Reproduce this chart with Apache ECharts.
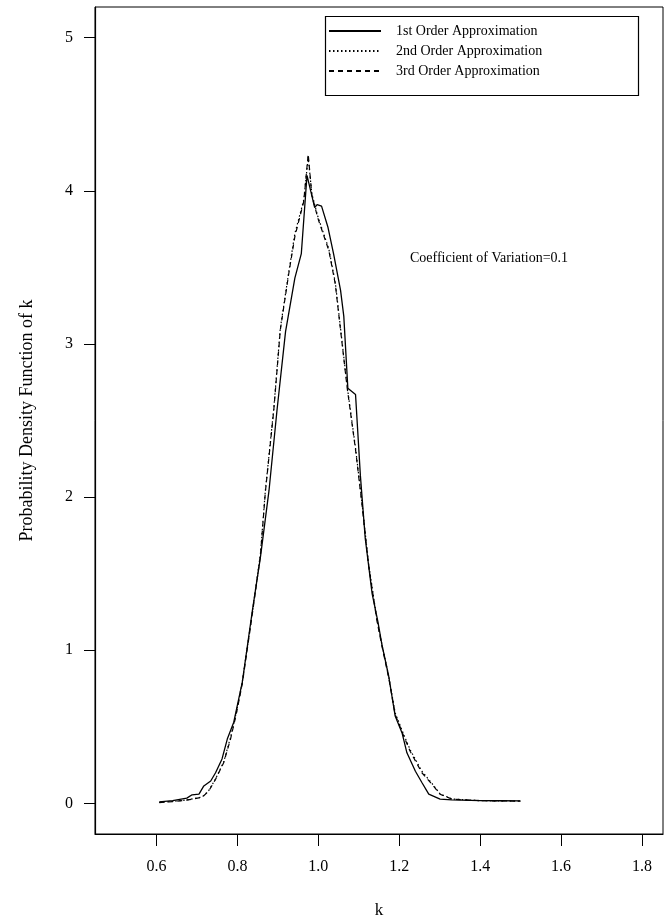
<!DOCTYPE html>
<html>
<head>
<meta charset="utf-8">
<script src="https://cdn.jsdelivr.net/npm/echarts@6/dist/echarts.min.js"></script>
<style>
  html, body { margin: 0; padding: 0; background: #fff; }
  #chart { width: 667px; height: 924px; }
</style>
</head>
<body>
<div id="chart"></div>
<script>
// Density of k under three orders of approximation
const kFirst = [0.607, 0.64, 0.675, 0.688, 0.705, 0.717, 0.734, 0.746, 0.762, 0.775, 0.791, 0.812, 0.836, 0.857, 0.878, 0.898, 0.919, 0.942, 0.958, 0.972, 0.991, 0.997, 1.008, 1.024, 1.038, 1.055, 1.063, 1.073, 1.092, 1.104, 1.116, 1.133, 1.147, 1.157, 1.174, 1.190, 1.207, 1.219, 1.240, 1.256, 1.273, 1.301, 1.330, 1.40, 1.45, 1.499];
const pdfFirst = [0.01, 0.018, 0.034, 0.056, 0.06, 0.114, 0.146, 0.20, 0.29, 0.42, 0.53, 0.79, 1.24, 1.61, 2.04, 2.57, 3.08, 3.43, 3.59, 4.10, 3.89, 3.91, 3.90, 3.76, 3.585, 3.35, 3.18, 2.71, 2.67, 2.14, 1.73, 1.37, 1.19, 1.04, 0.83, 0.57, 0.46, 0.33, 0.21, 0.136, 0.06, 0.028, 0.023, 0.018, 0.017, 0.016];

const kSecond = [0.607, 0.64, 0.672, 0.713, 0.729, 0.746, 0.766, 0.783, 0.797, 0.812, 0.836, 0.857, 0.869, 0.890, 0.906, 0.927, 0.942, 0.964, 0.975, 0.984, 0.999, 1.026, 1.042, 1.055, 1.071, 1.092, 1.108, 1.124, 1.145, 1.157, 1.174, 1.190, 1.211, 1.227, 1.256, 1.281, 1.301, 1.330, 1.40, 1.45, 1.50];
const pdfSecond = [0.006, 0.013, 0.021, 0.042, 0.083, 0.16, 0.27, 0.43, 0.59, 0.79, 1.23, 1.63, 2.04, 2.58, 3.10, 3.47, 3.72, 3.94, 4.22, 3.98, 3.83, 3.62, 3.40, 3.10, 2.73, 2.32, 1.96, 1.57, 1.20, 1.04, 0.83, 0.59, 0.45, 0.35, 0.21, 0.13, 0.062, 0.029, 0.018, 0.016, 0.015];

const kThird = [0.607, 0.64, 0.672, 0.713, 0.729, 0.746, 0.766, 0.783, 0.797, 0.812, 0.836, 0.857, 0.869, 0.890, 0.906, 0.927, 0.942, 0.964, 0.975, 0.984, 0.999, 1.026, 1.042, 1.055, 1.071, 1.092, 1.108, 1.124, 1.145, 1.157, 1.174, 1.190, 1.211, 1.227, 1.256, 1.281, 1.301, 1.330, 1.40, 1.45, 1.50];
const pdfThird = [0.005, 0.012, 0.02, 0.04, 0.08, 0.157, 0.265, 0.42, 0.58, 0.78, 1.22, 1.62, 2.03, 2.57, 3.09, 3.46, 3.70, 3.93, 4.24, 3.97, 3.82, 3.61, 3.39, 3.09, 2.72, 2.31, 1.95, 1.56, 1.19, 1.03, 0.82, 0.58, 0.44, 0.34, 0.20, 0.125, 0.06, 0.028, 0.018, 0.016, 0.015];

const seriesNames = ['1st Order Approximation', '2nd Order Approximation', '3rd Order Approximation'];
const xTicks = [0.6, 0.8, 1.0, 1.2, 1.4, 1.6, 1.8];
const yTicks = [0, 1, 2, 3, 4, 5];
const note = 'Coefficient of Variation=0.1';

const pairs = (xs, ys) => xs.map((x, i) => [x, ys[i]]);
const serif = 'Liberation Serif';

const chart = echarts.init(document.getElementById('chart'), null, { renderer: 'canvas' });

chart.setOption({
  backgroundColor: '#fff',
  animation: false,
  grid: {
    left: 95, right: 4, top: 7, bottom: 82,
    show: true, borderColor: '#000', borderWidth: 1, backgroundColor: 'transparent'
  },
  xAxis: {
    type: 'value',
    min: 0.448, max: 1.852,
    name: 'k',
    nameLocation: 'middle',
    nameGap: 68,
    nameTextStyle: { fontFamily: serif, fontSize: 17, color: '#000' },
    axisLine: { show: true, onZero: false, lineStyle: { color: '#000', width: 1.2 } },
    axisTick: { show: true, inside: false, length: 12, lineStyle: { color: '#000' }, customValues: xTicks },
    axisLabel: {
      margin: 25, fontFamily: serif, fontSize: 16, color: '#000',
      customValues: xTicks,
      formatter: v => v.toFixed(1)
    },
    splitLine: { show: false }
  },
  yAxis: {
    type: 'value',
    min: -0.2, max: 5.2,
    name: 'Probability Density Function of k',
    nameLocation: 'middle',
    nameRotate: 90,
    nameGap: 59,
    nameTextStyle: { fontFamily: serif, fontSize: 18, color: '#000' },
    axisLine: { show: true, onZero: false, lineStyle: { color: '#000', width: 1.2 } },
    axisTick: { show: true, inside: false, length: 11, lineStyle: { color: '#000' }, customValues: yTicks },
    axisLabel: {
      margin: 22, fontFamily: serif, fontSize: 16, color: '#000',
      customValues: yTicks,
      formatter: v => String(v)
    },
    splitLine: { show: false }
  },
  legend: {
    orient: 'vertical',
    left: 324, top: 16,
    padding: [8, 6, 8, 4],
    itemWidth: 52, itemHeight: 14, itemGap: 6,
    itemStyle: { opacity: 0 },
    textStyle: { fontFamily: serif, fontSize: 14, color: '#000', padding: [0, 0, 0, 10] },
    data: seriesNames
  },
  graphic: [
    {
      type: 'rect',
      left: 323, top: 14,
      shape: { width: 313, height: 79 },
      style: { fill: 'none', stroke: '#000', lineWidth: 1.2 },
      z: 10
    },
    {
      type: 'text',
      left: 410, top: 251,
      style: { text: note, fontFamily: serif, fontSize: 14, fill: '#000' },
      z: 10
    }
  ],
  series: [
    {
      name: seriesNames[0], type: 'line', symbol: 'none', smooth: false,
      data: pairs(kFirst, pdfFirst),
      lineStyle: { color: '#000', width: 1.3, type: 'solid' },
      itemStyle: { color: '#000' }
    },
    {
      name: seriesNames[1], type: 'line', symbol: 'none', smooth: false,
      data: pairs(kSecond, pdfSecond),
      lineStyle: { color: '#000', width: 1.2, type: [1.5, 2.5] },
      itemStyle: { color: '#000' }
    },
    {
      name: seriesNames[2], type: 'line', symbol: 'none', smooth: false,
      data: pairs(kThird, pdfThird),
      lineStyle: { color: '#000', width: 1.2, type: [5, 4] },
      itemStyle: { color: '#000' }
    }
  ]
});
</script>
</body>
</html>
